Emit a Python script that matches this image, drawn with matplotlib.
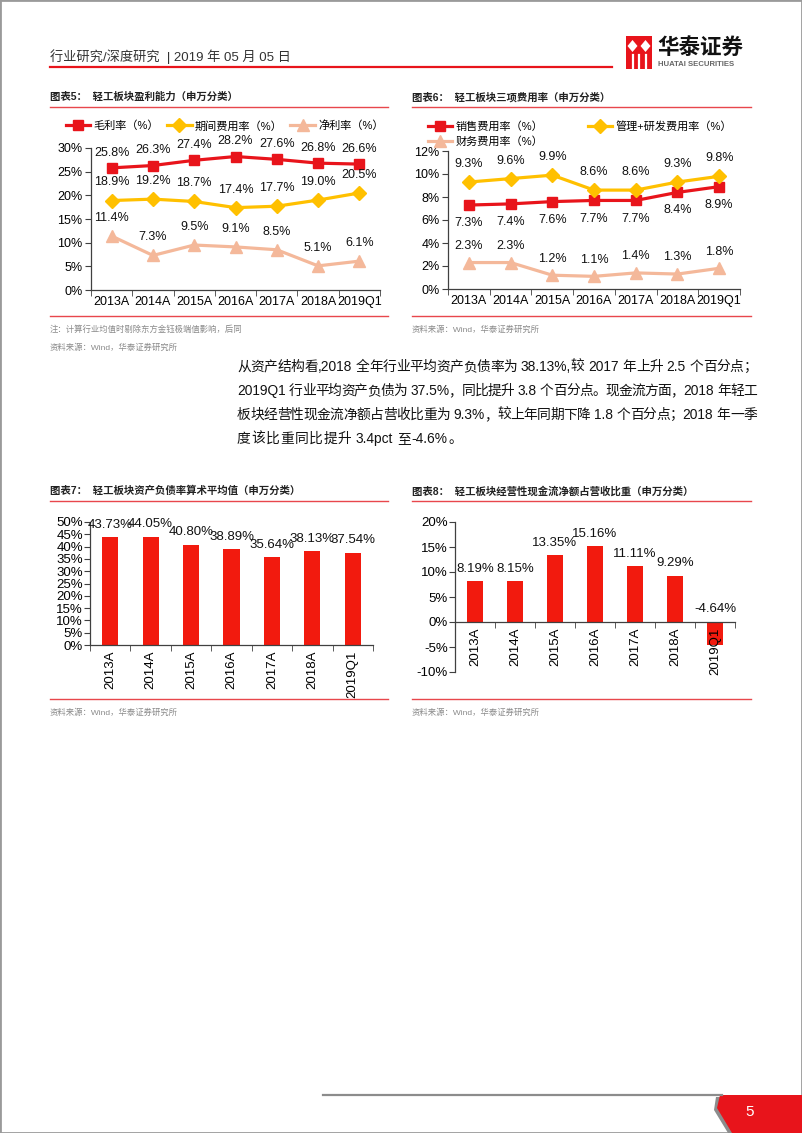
import matplotlib
matplotlib.use("Agg")
import matplotlib.pyplot as plt
from matplotlib.patches import Rectangle, Polygon
from matplotlib.lines import Line2D
from matplotlib.ticker import FixedLocator, PercentFormatter

plt.rcParams['font.family'] = ['Liberation Sans', 'Noto Sans CJK SC', 'DejaVu Sans']
plt.rcParams['axes.unicode_minus'] = False

W, H = 802, 1133

# ---- data ----
cats = ['2013A', '2014A', '2015A', '2016A', '2017A', '2018A', '2019Q1']

gross_margin = [25.8, 26.3, 27.4, 28.2, 27.6, 26.8, 26.6]
period_exp = [18.9, 19.2, 18.7, 17.4, 17.7, 19.0, 20.5]
net_margin = [11.4, 7.3, 9.5, 9.1, 8.5, 5.1, 6.1]

sales_exp = [7.3, 7.4, 7.6, 7.7, 7.7, 8.4, 8.9]
admin_rd_exp = [9.3, 9.6, 9.9, 8.6, 8.6, 9.3, 9.8]
fin_exp = [2.3, 2.3, 1.2, 1.1, 1.4, 1.3, 1.8]

debt_ratio = [43.73, 44.05, 40.80, 38.89, 35.64, 38.13, 37.54]
cashflow_ratio = [8.19, 8.15, 13.35, 15.16, 11.11, 9.29, -4.64]

para_lines = [
    "从资产结构看,2018 全年行业平均资产负债率为 38.13%,较 2017 年上升 2.5 个百分点；",
    "2019Q1 行业平均资产负债为 37.5%，同比提升 3.8 个百分点。现金流方面，2018 年轻工",
    "板块经营性现金流净额占营收比重为 9.3%，较上年同期下降 1.8 个百分点；2018 年一季",
    "度该比重同比提升 3.4pct 至-4.6%。",
]

RED = '#E8141B'
GOLD = '#FFC000'
PINK = '#F4B89A'
BAR = '#F21A0E'
AXC = '#404040'
LINE_RED = '#E8474C'


def fx(x):
    return x / W


def fy(y):
    return 1 - y / H


def add_ax(l, t, r, b):
    return fig.add_axes([l / W, 1 - b / H, (r - l) / W, (b - t) / H])


def hline(x0, x1, y, color, lw):
    fig.add_artist(Line2D([fx(x0), fx(x1)], [fy(y), fy(y)], color=color, lw=lw))


def style_axes(ax, n):
    for s in ['top', 'right']:
        ax.spines[s].set_visible(False)
    for s in ['left', 'bottom']:
        ax.spines[s].set_color(AXC)
        ax.spines[s].set_linewidth(0.9)
    ax.set_xlim(-0.5, n - 0.5)
    ax.xaxis.set_major_locator(FixedLocator(range(n)))
    ax.xaxis.set_minor_locator(FixedLocator([i - 0.5 for i in range(n + 1)]))
    ax.tick_params(axis='x', which='major', length=0, pad=4)
    ax.tick_params(axis='x', which='minor', length=4, color=AXC, direction='out')
    ax.tick_params(axis='y', length=4, color=AXC, direction='out', pad=2)
    ax.yaxis.set_major_formatter(PercentFormatter(decimals=0))


def tokens_of(line):
    # split into ascii words and single CJK chars; remember if a space follows
    toks = []
    cur = ''
    for ch in line:
        if ch == ' ':
            if cur:
                toks.append([cur, True])
                cur = ''
            elif toks:
                toks[-1][1] = True
        elif ord(ch) < 128:
            cur += ch
        else:
            if cur:
                toks.append([cur, False])
                cur = ''
            toks.append([ch, False])
    if cur:
        toks.append([cur, False])
    return toks


def justified(line, x0, x1, y, fs, justify=True):
    renderer = fig.canvas.get_renderer()
    toks = tokens_of(line)
    arts = []
    widths = []
    for t, _ in toks:
        a = fig.text(0, fy(y), t, fontsize=fs, color='#111111', va='center')
        widths.append(a.get_window_extent(renderer).width)
        arts.append(a)
    space = fs * 100 / 72 * 0.28
    natural = sum(widths) + sum(space for _, sp in toks[:-1] if sp)
    gaps = len(toks) - 1
    extra = (x1 - x0 - natural) / gaps if (justify and gaps > 0) else 0.6
    xpos = x0
    for a, w, (t, sp) in zip(arts, widths, toks):
        a.set_x(fx(xpos))
        xpos += w + extra + (space if sp else 0)


fig = plt.figure(figsize=(W / 100, H / 100), dpi=100)

# page frame
fig.add_artist(Rectangle((0, 0), 1, 1, transform=fig.transFigure, fill=False,
                         edgecolor='#9a9a9a', lw=2))

# ---- header ----
fig.text(fx(50), fy(57), "行业研究/深度研究  | 2019 年 05 月 05 日", fontsize=9.5,
         color='#333333', va='center')
hline(50, 612, 66.5, RED, 1.6)

# logo
fig.add_artist(Rectangle((fx(626), fy(69)), 26 / W, 33 / H, transform=fig.transFigure,
                         facecolor=RED, edgecolor='none'))
for cx in (632.5, 645.5):
    fig.add_artist(Polygon([(fx(cx - 5), fy(46)), (fx(cx), fy(40)), (fx(cx + 5), fy(46)),
                            (fx(cx), fy(52))], closed=True, transform=fig.transFigure,
                           facecolor='white', edgecolor='none'))
for vx in (632.5, 639, 645.5):
    fig.add_artist(Line2D([fx(vx), fx(vx)], [fy(55), fy(69)], color='white', lw=1.6))
fig.text(fx(657), fy(48), "华泰证券", fontsize=15.5, fontweight='bold', color='#111111',
         va='center')
fig.text(fx(658), fy(65), "HUATAI SECURITIES", fontsize=5.6, fontweight='bold',
         color='#666666', va='center')

# ---- chart titles / separators ----
fig.text(fx(50), fy(97), "图表5：  轻工板块盈利能力（申万分类）", fontsize=7.5,
         fontweight='bold', color='#222222', va='center')
fig.text(fx(412), fy(97), "图表6：  轻工板块三项费用率（申万分类）", fontsize=7.5,
         fontweight='bold', color='#222222', va='center')
fig.text(fx(50), fy(491), "图表7：  轻工板块资产负债率算术平均值（申万分类）", fontsize=7.5,
         fontweight='bold', color='#222222', va='center')
fig.text(fx(412), fy(491), "图表8：  轻工板块经营性现金流净额占营收比重（申万分类）", fontsize=7.5,
         fontweight='bold', color='#222222', va='center')
for y in (106.5, 500.5, 316, 699):
    hline(50, 388, y, LINE_RED, 1.0)
    hline(412, 751, y, LINE_RED, 1.0)

fig.text(fx(50), fy(330), "注：计算行业均值时剔除东方金钰极端值影响，后同", fontsize=6,
         color='#8a8a8a', va='center')
fig.text(fx(50), fy(348), "资料来源：Wind，华泰证券研究所", fontsize=6, color='#8a8a8a', va='center')
fig.text(fx(412), fy(330), "资料来源：Wind，华泰证券研究所", fontsize=6, color='#8a8a8a', va='center')
fig.text(fx(50), fy(713), "资料来源：Wind，华泰证券研究所", fontsize=6, color='#8a8a8a', va='center')
fig.text(fx(412), fy(713), "资料来源：Wind，华泰证券研究所", fontsize=6, color='#8a8a8a', va='center')

# ---- paragraph ----
for i, line in enumerate(para_lines):
    justified(line, 237, 757, 367 + 24 * i, 9.9, justify=(i < len(para_lines) - 1))

x = list(range(len(cats)))


def label_points(ax, vals, dy, color='#111111'):
    for xi, v in zip(x, vals):
        ax.annotate(f"{v:.1f}%", (xi, v), xytext=(0, dy), textcoords='offset points',
                    ha='center', va='center', fontsize=9, color=color)


# ---- chart 5 ----
ax5 = add_ax(91, 148, 380, 290)
style_axes(ax5, len(cats))
ax5.set_ylim(0, 30)
ax5.set_yticks(range(0, 31, 5))
ax5.plot(x, gross_margin, color=RED, lw=2.3, marker='s', ms=7, label="毛利率（%）")
ax5.plot(x, period_exp, color=GOLD, lw=2.3, marker='D', ms=7.5, label="期间费用率（%）")
ax5.plot(x, net_margin, color=PINK, lw=2.3, marker='^', ms=8, label="净利率（%）")
label_points(ax5, gross_margin, 11)
label_points(ax5, period_exp, 13)
label_points(ax5, net_margin, 13)
ax5.set_xticks(x)
ax5.set_xticklabels(cats, fontsize=9)
ax5.tick_params(axis='y', labelsize=9)
fig.legend(handles=ax5.get_lines(), loc='center left',
           bbox_to_anchor=(fx(66), fy(126)), ncol=3, frameon=False, fontsize=8,
           handlelength=2.2, handletextpad=0.3, columnspacing=0.7, borderaxespad=0,
           borderpad=0)

# ---- chart 6 ----
ax6 = add_ax(448, 151, 740, 289)
style_axes(ax6, len(cats))
ax6.set_ylim(0, 12)
ax6.set_yticks(range(0, 13, 2))
l1, = ax6.plot(x, sales_exp, color=RED, lw=2.3, marker='s', ms=7, label="销售费用率（%）")
l2, = ax6.plot(x, admin_rd_exp, color=GOLD, lw=2.3, marker='D', ms=7.5,
               label="管理+研发费用率（%）")
l3, = ax6.plot(x, fin_exp, color=PINK, lw=2.3, marker='^', ms=8, label="财务费用率（%）")
label_points(ax6, admin_rd_exp, 13)
label_points(ax6, sales_exp, -13)
label_points(ax6, fin_exp, 12)
ax6.set_xticks(x)
ax6.set_xticklabels(cats, fontsize=9)
ax6.tick_params(axis='y', labelsize=9)
fig.legend(handles=[l1, l3, l2], loc='center left',
           bbox_to_anchor=(fx(428), fy(134)), ncol=2, frameon=False, fontsize=8,
           handlelength=2.2, handletextpad=0.3, columnspacing=4.0, labelspacing=0.45,
           borderaxespad=0, borderpad=0)

# ---- chart 7 ----
ax7 = add_ax(90, 522, 373, 645)
style_axes(ax7, len(cats))
ax7.set_ylim(0, 50)
ax7.set_yticks(range(0, 51, 5))
ax7.bar(x, debt_ratio, width=0.4, color=BAR)
for xi, v in zip(x, debt_ratio):
    ax7.annotate(f"{v:.2f}%", (xi, v), xytext=(0, 9), textcoords='offset points',
                 ha='center', va='center', fontsize=9.5, color='#111111')
ax7.set_xticks(x)
ax7.set_xticklabels(cats, fontsize=9.5, rotation=90)
ax7.tick_params(axis='y', labelsize=9.5, pad=1)

# ---- chart 8 ----
ax8 = add_ax(455, 522, 735, 672)
style_axes(ax8, len(cats))
ax8.set_ylim(-10, 20)
ax8.set_yticks(range(-10, 21, 5))
ax8.spines['bottom'].set_position(('data', 0))
ax8.bar(x, cashflow_ratio, width=0.4, color=BAR)
for xi, v in zip(x, cashflow_ratio):
    ax8.annotate(f"{v:.2f}%", (xi, max(v, 0)), xytext=(0, 9), textcoords='offset points',
                 ha='center', va='center', fontsize=9.5, color='#111111')
ax8.set_xticks(x)
ax8.set_xticklabels(cats, fontsize=9.5, rotation=90)
ax8.tick_params(axis='y', labelsize=9.5, pad=1)

# ---- footer ----
hline(323, 722, 1095, '#8c8c8c', 1.6)
fig.add_artist(Polygon([(fx(716), fy(1097)), (fx(802), fy(1097)), (fx(802), fy(1133)),
                        (fx(728), fy(1133)), (fx(714), fy(1110))], closed=True,
                       transform=fig.transFigure, facecolor='#8c8c8c', edgecolor='none'))
fig.add_artist(Polygon([(fx(720), fy(1095)), (fx(802), fy(1095)), (fx(802), fy(1133)),
                        (fx(732), fy(1133)), (fx(717), fy(1108))], closed=True,
                       transform=fig.transFigure, facecolor=RED, edgecolor='none'))
fig.text(fx(750), fy(1112), "5", fontsize=11, color='white', ha='center', va='center')

fig.savefig("out.png", dpi=100)
